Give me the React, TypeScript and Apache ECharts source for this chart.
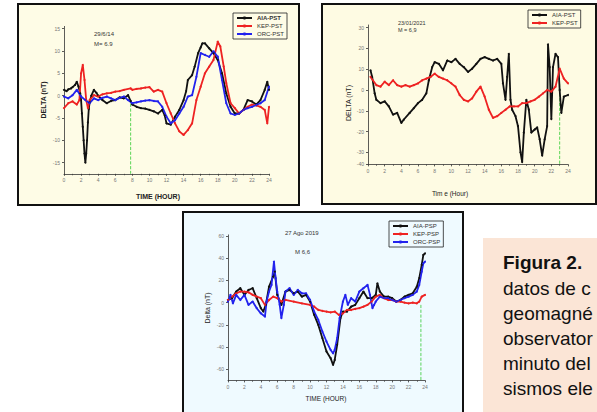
import React, { useEffect, useRef } from "react";
import * as echarts from "echarts";

const FONT = "Liberation Sans, Arial, sans-serif";

// ---- Panel 1 : 29/6/14, M= 6.9 ----
const p1Aia: [number, number][] = [
  [0, 1.3], [0.3, 1.0], [0.5, 1.4], [0.8, 1.6], [1, 1.9], [1.3, 2.4], [1.5, 3.1], [1.7, 2.0], [1.9, 0.5], [2.0, -1], [2.1, -4], [2.2, -7], [2.3, -10],
  [2.4, -13], [2.5, -15], [2.6, -13], [2.7, -10], [2.8, -6], [2.9, -3], [3.0, -1.5], [3.2, 0], [3.5, 1.3], [3.8, 0.6], [4, 0],
  [4.5, -1], [5, -1.7], [5.5, -1.2], [6, -1], [6.5, -0.4], [7, -0.6], [7.5, 0.1], [7.8, -1.2], [8, -2], [8.5, -2.5],
  [9, -2.8], [9.5, -2.9], [10, -3.2], [10.5, -3.5], [11, -4], [11.5, -3.2], [11.8, -4.5], [12, -6.2], [12.5, -6.5],
  [13, -4.7], [13.5, -3.2], [14, -1], [14.3, 1], [14.5, 3.5], [15, 4.6], [15.3, 6.5], [15.7, 9.5], [16, 10.8], [16.2, 11.7],
  [16.5, 11.7], [17, 10.6], [17.5, 9.5], [18, 8], [18.5, 5], [19, 0.5], [19.5, -2.5], [20, -4], [20.5, -4],
  [21, -3.2], [21.5, -1], [22, -1.3], [22.5, -2], [23, -1], [23.5, 1.3], [23.8, 3.1], [24, 1.3]
];
const p1Kep: [number, number][] = [
  [0, -2.8], [0.5, -1.7], [1, -1.3], [1.5, -2], [1.8, -1], [2.0, 5], [2.2, 6.9], [2.4, 3.5], [2.6, -1], [2.8, -2.8],
  [3, -1], [3.5, 0.1], [4, -0.2], [4.5, 0.3], [5, 0.5], [5.5, 0.6], [6, 0.9], [6.5, 1.0], [7, 1.3], [7.8, 1.6], [8, 1.3],
  [8.5, 1.5], [9, 1.6], [9.5, 1.8], [10, 1.9], [10.5, 0.9], [11, 1.3], [11.5, 0.9], [12, -1.7], [12.5, -4], [13, -6.2],
  [13.5, -8], [14, -8.8], [14.5, -7.7], [15, -6.2], [15.5, -1], [16, 2], [16.5, 5], [17, 6.5], [17.5, 8], [18, 12.1],
  [18.3, 11], [18.7, 6.5], [19, 2.8], [19.5, -1.7], [20, -2.8], [20.5, -4], [21, -3.2], [21.5, -2.5], [22, -2],
  [22.5, -2.2], [23, -2.5], [23.5, -3.2], [23.8, -6.2], [24, -2.5]
];
const p1Orc: [number, number][] = [
  [0, -0.2], [0.5, -0.6], [1, 0.1], [1.5, 1.3], [2, -0.2], [2.5, -1], [3, -1.7], [3.5, -0.6], [4, -1], [4.5, -0.5],
  [5, -0.2], [5.5, -0.6], [6, -1], [6.5, -0.5], [7, -0.2], [7.5, -1], [8, -1.7], [8.5, -1.5], [9, -1.3], [9.5, -1.1],
  [10, -1], [10.5, -1.2], [11, -1.3], [11.5, -2.5], [12, -4.7], [12.5, -6.2], [13, -5.5], [13.5, -4], [14, -2.5],
  [14.5, -0.2], [15, 0.1], [15.5, 4.2], [16, 9.5], [16.5, 9.1], [17, 8.7], [17.5, 9.9], [18, 8.7], [18.5, 3.5],
  [19, -1.7], [19.5, -4], [20, -4.3], [20.5, -4], [21, -3.2], [21.5, -2.8], [22, -2.5], [22.5, -2.1], [23, -1.7],
  [23.5, -1], [24, 2]
];
const p1Mark: [number, number][] = [[7.8, -1.8], [7.8, -17.5]];
const p1YTicks = [-15, -10, -5, 0, 5, 10, 15];

// ---- Panel 2 : 23/01/2021, M = 6,9 ----
const p2Aia: [number, number][] = [
  [0.3, 9.5], [0.5, 6.3], [0.8, -1.6], [1, -4.7], [1.5, -6.3], [2, -5.5], [2.5, -7.9], [3, -11.8], [3.5, -11],
  [4, -15.8], [4.3, -14.2], [5, -11], [5.5, -8.7], [6, -6.3], [6.5, -4.7], [7, -1.6], [7.3, 4.7], [7.7, 11],
  [8, 13.4], [8.5, 12.6], [9, 9.5], [9.5, 14.2], [10, 13.4], [10.5, 15], [11, 12.6], [11.5, 11], [12, 8.7],
  [12.5, 10.3], [13, 12.6], [13.5, 15], [14, 15.8], [14.5, 15], [15, 14.2], [15.5, 15], [16, 12.6], [16.2, 3.2],
  [16.5, -4.7], [16.7, 6.3], [16.9, 17.4], [17.1, -4.7], [17.3, -9.5], [17.7, -12.6], [18, -17.4], [18.3, -30],
  [18.5, -34.7], [18.7, -20.5], [19, -4.7], [19.3, -9.5], [19.6, -20.5], [20, -19], [20.3, -18], [20.6, -23.7],
  [20.9, -31.6], [21.2, -23.7], [21.5, -17.4], [21.6, 22], [21.8, 11], [22, -14], [22.2, 11], [22.5, 17.4],
  [22.8, 15.8], [23, 0], [23.2, -11], [23.5, -3.2], [24, -2.4]
];
const p2Kep: [number, number][] = [
  [0.3, 6.3], [1, 2.4], [1.5, 1.6], [2, 4], [2.5, 2.4], [3, 4.7], [3.5, 2.4], [4, 1.6], [4.5, 2.4], [5, 1.6],
  [5.5, 2.4], [6, 3.2], [6.5, 4.7], [7, 5.5], [7.5, 6.3], [8, 7.9], [8.5, 6.3], [9, 5.5], [9.5, 4.7], [10, 3.2],
  [10.5, 1.6], [11, -2.4], [11.5, -4.7], [12, -5.5], [12.5, -4], [13, -0.8], [13.5, 1.6], [14, -3.2], [14.5, -9.5],
  [15, -13.4], [15.5, -12.6], [16, -11], [16.5, -9.5], [17, -7.9], [17.5, -7.9], [18, -7.9], [18.5, -6.3],
  [19, -6.3], [19.5, -5.5], [20, -4.7], [20.5, -3.2], [21, -1.6], [21.5, 0], [22, -0.8], [22.5, 1.6], [23, 10.3],
  [23.5, 5.5], [24, 3.2]
];
const p2Mark: [number, number][] = [[23, 3], [23, -35.8]];
const p2YTicks = [-35.8, -30, -20, -10, 0, 10, 20, 30];

// ---- Panel 3 : 27 Ago 2019, M 6,6 ----
const p3Aia: [number, number][] = [
  [0, 2.4], [0.5, 4], [1, 10], [1.5, 13], [2, 7], [2.5, 11.4], [3, 13], [3.5, 4], [4, -5], [4.3, -8], [4.6, -2],
  [5, 14.4], [5.5, 23.4], [5.7, 28], [6, 7], [6.5, -2], [7, 10], [7.5, 11.4], [8, 8.4], [8.5, 10], [9, 5.4],
  [9.5, 7], [10, 1], [10.5, -11], [11, -20], [11.5, -32], [12, -44], [12.5, -50], [12.8, -56], [13, -51.6],
  [13.3, -38], [13.7, -14], [14, -8], [14.5, -8], [15, -3.6], [15.5, -2], [16, 4], [16.5, 10], [17, 4], [17.5, 4],
  [18, 7], [18.2, 17.4], [18.5, 10], [19, 5.4], [19.5, 5.4], [20, 4], [20.5, 1], [21, 2.4], [21.5, 5.4], [22, 7],
  [22.5, 8.4], [23, 14.4], [23.3, 22], [23.6, 34], [23.8, 43], [24, 44.4]
];
const p3Kep: [number, number][] = [
  [0, 2.4], [0.5, 5.4], [1, 8.4], [1.5, 10], [2, 10], [2.5, 9.3], [3, 7], [3.5, 5.4], [4, 4], [4.5, -2], [5, 2.4],
  [5.5, 5.4], [6, 4], [6.5, 1], [7, 2.4], [8, 1], [9, -0.6], [10, -2], [10.5, -3.6], [11, -6.6], [11.5, -7.5],
  [12, -8], [12.5, -8.7], [13, -8], [13.5, -11], [14, -9.6], [14.5, -6.6], [15, -6.6], [15.5, -5.7], [16, -5],
  [16.5, -3.6], [17, -2], [17.5, 1], [18, 5.4], [18.5, 7], [19, 4], [19.5, 2.4], [20, 2.4], [20.5, 1], [21, 1],
  [21.5, 0], [22, -0.6], [22.5, 0], [23, -0.6], [23.3, 1], [23.6, 5.4], [24, 7]
];
const p3Orc: [number, number][] = [
  [0, 1], [0.3, 7], [0.6, -0.6], [1, 7], [1.5, 2.4], [2, 7], [2.5, -2], [3, 1], [3.5, -5], [4, -9.6], [4.5, -12.6],
  [4.7, 1], [5, 10], [5.3, 16], [5.6, 37], [5.8, 22], [6, 10], [6.3, -2], [6.5, -14], [6.8, -2], [7, 10], [7.5, 13],
  [8, 7], [8.5, 11.4], [9, 8.4], [9.5, 8.4], [10, 2.4], [10.5, -8], [11, -15.6], [11.5, -26], [12, -35],
  [12.5, -42.6], [12.8, -45.6], [13, -42.6], [13.3, -32], [13.6, -14], [14, 1], [14.3, 7], [14.6, -2], [15, 4],
  [15.5, 1], [16, 10], [16.5, 13], [17, 16], [17.3, 7], [17.6, -5], [17.8, -2], [18, 1], [18.5, 5.4], [19, 4],
  [19.5, 4], [20, 2.4], [20.5, 1], [21, 2.4], [21.5, 4], [22, 5.4], [22.5, 7], [23, 10], [23.3, 16], [23.6, 28],
  [23.8, 35.4], [24, 37]
];
const p3Mark: [number, number][] = [[23.5, -2], [23.5, -70]];
const p3YTicks = [-60, -40, -20, 0, 20, 40, 60];

const captionLines = ["datos de c", "geomagné", "observator", "minuto del", "sismos ele"];

function xAxis(gridIndex: number, nameGap: number) {
  return {
    type: "value", gridIndex, min: 0, max: 24, interval: 2,
    axisLine: { onZero: false, lineStyle: { color: "#333", width: 0.8 } },
    axisTick: { length: 2, lineStyle: { color: "#333", width: 0.8 } },
    minorTick: { show: true, splitNumber: 2, length: 1.5, lineStyle: { color: "#333", width: 0.6 } },
    axisLabel: { fontSize: 5, color: "#777", margin: 4, fontFamily: FONT },
    splitLine: { show: false },
  };
}

function yAxis(gridIndex: number, min: number, max: number, ticks: number[], fmt?: (v: number) => string) {
  return {
    type: "value", gridIndex, min, max,
    axisLine: { show: true, onZero: false, lineStyle: { color: "#333", width: 0.8 } },
    axisTick: { show: true, length: 2, customValues: ticks, lineStyle: { color: "#333", width: 0.8 } },
    axisLabel: { fontSize: 5, color: "#777", margin: 4, fontFamily: FONT, customValues: ticks, formatter: fmt },
    splitLine: { show: false },
  };
}

function line(name: string, data: [number, number][], color: string, idx: number) {
  return {
    type: "line", name, data, xAxisIndex: idx, yAxisIndex: idx,
    symbol: "circle", symbolSize: 2, showSymbol: true,
    lineStyle: { color, width: 1.8 }, itemStyle: { color },
    z: 3,
  };
}

function mark(data: [number, number][], idx: number) {
  return {
    type: "line", name: "mark" + idx, data, xAxisIndex: idx, yAxisIndex: idx, symbol: "none",
    lineStyle: { color: "#33cc33", width: 0.8, type: "dashed" }, z: 2,
  };
}

function legend(left: number, top: number, data: any[]) {
  return {
    orient: "vertical", left, top, itemWidth: 15, itemHeight: 4, itemGap: 2,
    padding: [2, 3, 2, 3], borderColor: "#222", borderWidth: 0.8,
    textStyle: { fontSize: 6, color: "#333", fontFamily: FONT },
    data,
  };
}

function txt(x: number, y: number, text: string, size: number, extra: any = {}) {
  return {
    type: "text", x, y, z: 10,
    style: { text, fontSize: size, fill: "#333", fontFamily: FONT, verticalAlign: "middle", ...extra },
  };
}

function vtxt(x: number, y: number, text: string, size: number, bold: boolean) {
  return {
    type: "text", x, y, rotation: Math.PI / 2, z: 10,
    style: { text, fontSize: size, fill: "#222", fontFamily: FONT, fontWeight: bold ? "bold" : "normal", align: "center", verticalAlign: "middle" },
  };
}

export default function App() {
  const ref = useRef<HTMLDivElement>(null);
  useEffect(() => {
    if (!ref.current) return;
    const chart = echarts.init(ref.current, undefined, { renderer: "svg" });
    chart.setOption({
      animation: false,
      backgroundColor: "#ffffff",
      grid: [
        { left: 64, top: 26.4, width: 205, height: 147.4 },
        { left: 368, top: 25, width: 200, height: 139.4 },
        { left: 228, top: 234.9, width: 197, height: 145.5 },
      ],
      xAxis: [xAxis(0, 18), xAxis(1, 26), xAxis(2, 14)],
      yAxis: [
        yAxis(0, -17.5, 15.5, p1YTicks),
        yAxis(1, -35.8, 31.3, p2YTicks, (v: number) => (v < -35 ? "-40" : String(v))),
        yAxis(2, -70, 61, p3YTicks),
      ],
      legend: [
        legend(233, 13, [{ name: "AIA-PST", textStyle: { fontWeight: "bold" } }, "KEP-PST", "ORC-PST"]),
        legend(528, 10, ["AIA-PST", "KEP-PST"]),
        legend(389, 221, ["AIA-PSP", "KEP-PSP", "ORC-PSP"]),
      ],
      series: [
        mark(p1Mark, 0),
        line("AIA-PST", p1Aia, "#111111", 0),
        line("KEP-PST", p1Kep, "#ee2222", 0),
        line("ORC-PST", p1Orc, "#2222ee", 0),
        mark(p2Mark, 1),
        line("AIA-PST", p2Aia, "#111111", 1),
        line("KEP-PST", p2Kep, "#ee2222", 1),
        mark(p3Mark, 2),
        line("AIA-PSP", p3Aia, "#111111", 2),
        line("KEP-PSP", p3Kep, "#ee2222", 2),
        line("ORC-PSP", p3Orc, "#2222ee", 2),
      ],
      graphic: [
        { type: "rect", z: -10, shape: { x: 18, y: 4, width: 281, height: 201 }, style: { fill: "#fefce6", stroke: "#111", lineWidth: 2 } },
        { type: "rect", z: -10, shape: { x: 322, y: 4, width: 274, height: 200 }, style: { fill: "#fefbe3", stroke: "#111", lineWidth: 2 } },
        { type: "rect", z: -10, shape: { x: 183, y: 212, width: 280, height: 215 }, style: { fill: "#effaff", stroke: "#111", lineWidth: 2 } },
        { type: "rect", z: -10, shape: { x: 483, y: 238, width: 130, height: 200 }, style: { fill: "#fbe5d6" } },
        txt(94, 34, "29/6/14", 6),
        txt(94, 44, "M= 6.9", 6),
        txt(398, 23, "23/01/2021", 5.5),
        txt(398, 30, "M = 6,9", 5.5),
        txt(285, 233, "27 Ago 2019", 6),
        txt(295, 252, "M 6,6", 6),
        txt(158, 196, "TIME (HOUR)", 7, { align: "center", fontWeight: "bold", fill: "#222" }),
        txt(450, 193, "Tim e (Hour)", 6.5, { align: "center", fill: "#222" }),
        txt(326, 398, "TIME (HOUR)", 6.5, { align: "center", fill: "#222" }),
        { ...vtxt(43, 100, "DELTA (nT)", 7, true), rotation: Math.PI / 2 },
        { ...vtxt(348, 103, "DELTA (nT)", 7, false), rotation: Math.PI / 2 },
        { ...vtxt(207, 308, "Delta (nT)", 7, false), rotation: Math.PI / 2 },
        txt(503, 262, "Figura 2.", 19, { fontWeight: "bold", fill: "#111" }),
        ...captionLines.map((t, i) => txt(503, 288 + i * 25, t, 19, { fill: "#111" })),
      ],
    });
    return () => chart.dispose();
  }, []);
  return (
    <div style={{ position: "fixed", left: 0, top: 0, width: 597, height: 412, overflow: "hidden" }}>
      <div ref={ref} style={{ width: 597, height: 412 }} />
    </div>
  );
}
